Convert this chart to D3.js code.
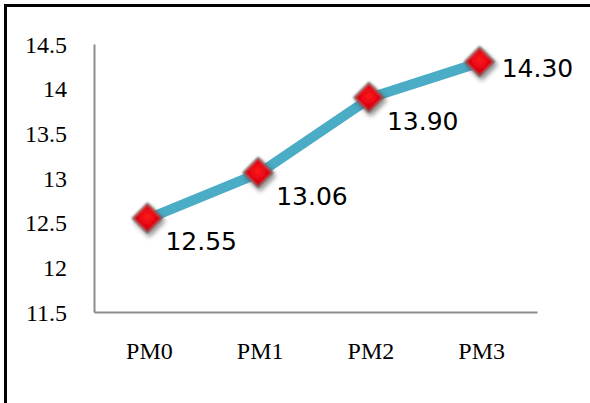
<!DOCTYPE html>
<html>
<head>
<meta charset="utf-8">
<script src="https://cdn.jsdelivr.net/npm/d3@7"></script>
<style>
  body { margin: 0; background: #fff; }
</style>
</head>
<body>
<div id="chart"></div>
<script>
var svgWidth = 590;
var svgHeight = 403;

// chart data
var categories = ["PM0", "PM1", "PM2", "PM3"];
var values = [12.55, 13.06, 13.90, 14.30];
var valueLabels = ["12.55", "13.06", "13.90", "14.30"];
var yTicks = [11.5, 12, 12.5, 13, 13.5, 14, 14.5];

var plot = { left: 94, right: 537, top: 44, bottom: 312 };
var serif = "'Liberation Serif', 'Times New Roman', serif";

var svg = d3.select("#chart")
  .append("svg")
  .attr("width", svgWidth)
  .attr("height", svgHeight);

// marker gradient + shadow
var defs = svg.append("defs");
var grad = defs.append("radialGradient")
  .attr("id", "redGrad")
  .attr("cx", "50%").attr("cy", "45%").attr("r", "60%");
grad.append("stop").attr("offset", "0%").attr("stop-color", "#ff1a1a");
grad.append("stop").attr("offset", "55%").attr("stop-color", "#e00010");
grad.append("stop").attr("offset", "100%").attr("stop-color", "#7a2020");

var shadow = defs.append("filter")
  .attr("id", "shadow")
  .attr("x", "-50%").attr("y", "-50%")
  .attr("width", "200%").attr("height", "200%");
shadow.append("feGaussianBlur")
  .attr("in", "SourceGraphic").attr("stdDeviation", 0.8).attr("result", "soft");
shadow.append("feDropShadow")
  .attr("in", "soft")
  .attr("dx", 2).attr("dy", 3)
  .attr("stdDeviation", 2)
  .attr("flood-color", "#000")
  .attr("flood-opacity", 0.45);

// frame (left and top edges only visible)
svg.append("line")
  .attr("x1", 5.5).attr("y1", 4).attr("x2", 5.5).attr("y2", svgHeight)
  .attr("stroke", "#000").attr("stroke-width", 3);
svg.append("line")
  .attr("x1", 4).attr("y1", 5.5).attr("x2", svgWidth).attr("y2", 5.5)
  .attr("stroke", "#000").attr("stroke-width", 3);

var xScale = d3.scaleBand()
  .domain(categories)
  .range([plot.left, plot.right]);

var yScale = d3.scaleLinear()
  .domain([11.5, 14.5])
  .range([plot.bottom, plot.top]);

var xPos = d => xScale(d) + xScale.bandwidth() / 2;

// y axis
var leftAxis = d3.axisLeft(yScale)
  .tickValues(yTicks)
  .tickSize(0)
  .tickPadding(27)
  .tickFormat(d3.format("~g"));

var yAxis = svg.append("g")
  .attr("transform", `translate(${plot.left}, 0)`)
  .call(leftAxis);
yAxis.attr("font-family", serif);
yAxis.select(".domain").attr("stroke", "#8c8c8c").attr("stroke-width", 2);
yAxis.selectAll("text")
  .attr("font-family", serif)
  .attr("font-size", 24)
  .attr("fill", "#000")
  .attr("dy", "0.34em");

// x axis
var bottomAxis = d3.axisBottom(xScale)
  .tickSize(0)
  .tickPadding(30);

var xAxis = svg.append("g")
  .attr("transform", `translate(0, ${plot.bottom})`)
  .call(bottomAxis);
xAxis.attr("font-family", serif);
xAxis.select(".domain").attr("stroke", "#8c8c8c").attr("stroke-width", 2);
xAxis.selectAll("text")
  .attr("font-family", serif)
  .attr("font-size", 24)
  .attr("fill", "#000");

// line
var line = d3.line()
  .x((d, i) => xPos(categories[i]))
  .y(d => yScale(d));

svg.append("path")
  .datum(values)
  .attr("d", line)
  .attr("fill", "none")
  .attr("stroke", "#4bacc6")
  .attr("stroke-width", 10)
  .attr("stroke-linejoin", "round");

// markers
var r = 15;
svg.append("g")
  .selectAll("path")
  .data(values)
  .enter()
  .append("path")
  .attr("d", `M0,${-r}L${r},0L0,${r}L${-r},0Z`)
  .attr("transform", (d, i) => `translate(${xPos(categories[i]) - 2}, ${yScale(d)})`)
  .attr("fill", "url(#redGrad)")
  .attr("stroke", "#6e6a6a")
  .attr("stroke-width", 1.5)
  .attr("filter", "url(#shadow)");

// value labels (below-right, last one to the right)
svg.append("g")
  .selectAll("text")
  .data(values)
  .enter()
  .append("text")
  .attr("x", (d, i) => xPos(categories[i]) + (i === values.length - 1 ? 20 : 16))
  .attr("y", (d, i) => yScale(d) + (i === values.length - 1 ? 15 : 32))
  .attr("font-family", "'DejaVu Sans', Verdana, sans-serif")
  .attr("font-size", 25)
  .attr("fill", "#000")
  .text((d, i) => valueLabels[i]);
</script>
</body>
</html>
